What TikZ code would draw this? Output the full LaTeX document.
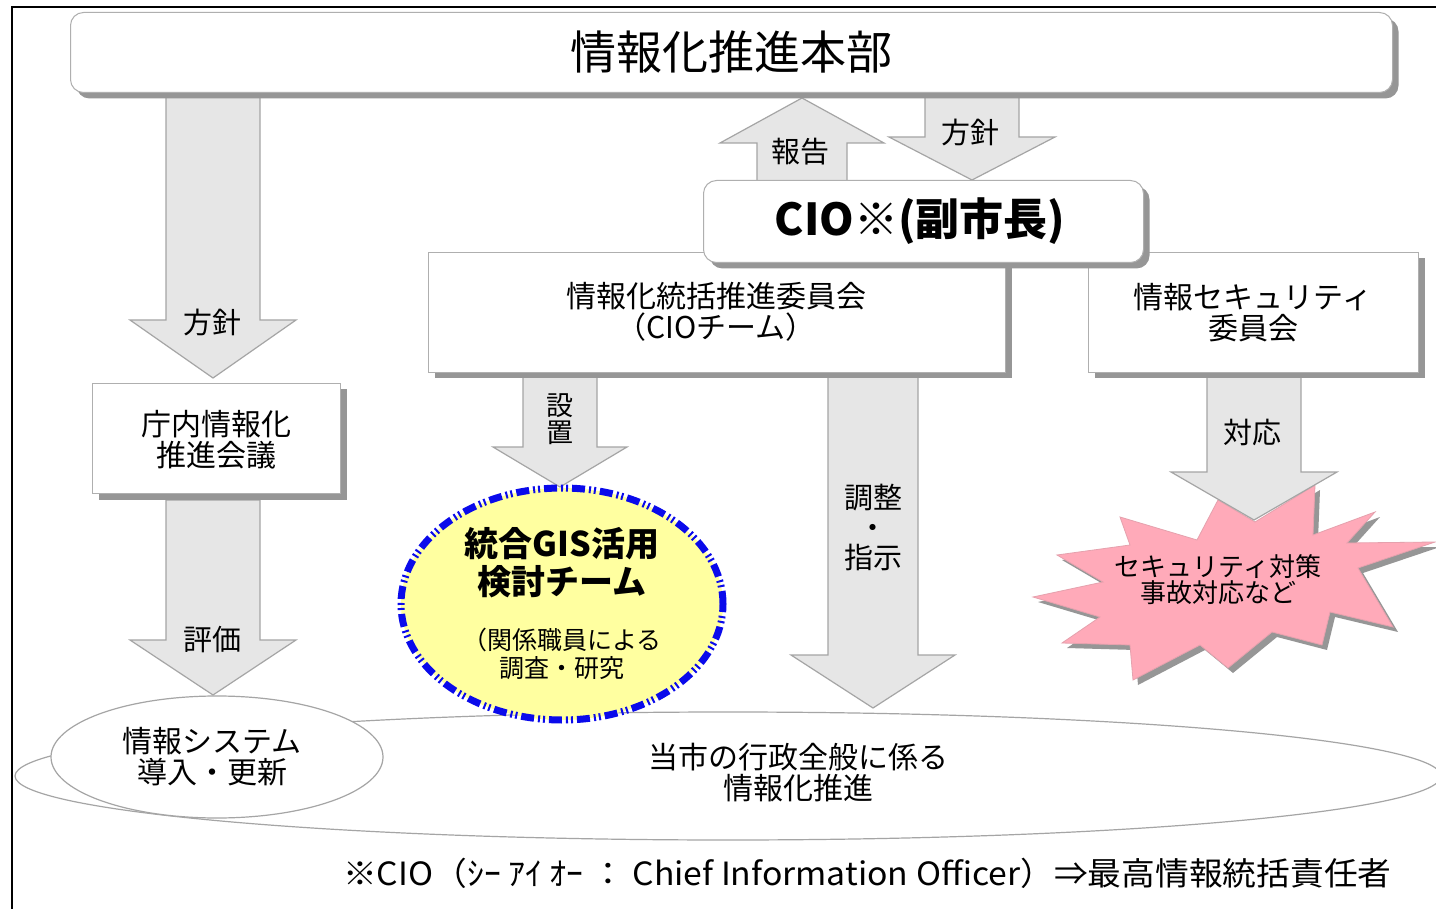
\documentclass[tikz,border=0pt]{standalone}
\usepackage{fontspec}
\setmainfont{Noto Sans CJK JP}
\usetikzlibrary{shadows,shapes.geometric}
\definecolor{arrowgray}{RGB}{230,230,230}
\definecolor{linegray}{RGB}{165,165,165}
\definecolor{shadowgray}{RGB}{150,150,150}
\definecolor{boxgray}{RGB}{175,175,175}
\definecolor{pinkc}{RGB}{255,170,185}
\definecolor{yellowc}{RGB}{255,255,160}
\definecolor{bluec}{RGB}{10,10,235}
\newcommand\blockarrow[6]{%
  \filldraw[arrowsty] ({#1-#5},#2) -- ({#1+#5},#2) -- ({#1+#5},#3) -- ({#1+#6},#3) -- (#1,#4) -- ({#1-#6},#3) -- ({#1-#5},#3) -- cycle;}
\begin{document}
\begin{tikzpicture}[x=1pt,y=-1pt,
  arrowsty/.style={fill=arrowgray, draw=linegray, line width=1.2pt},
  sq/.style={draw=boxgray, fill=white, line width=1pt, anchor=north west,
    drop shadow={shadow xshift=6pt, shadow yshift=-6pt, fill=shadowgray, opacity=1}},
  rbox/.style={sq, rounded corners=13pt},
  txt/.style={font=\fontsize{30}{31}\selectfont, align=center, inner sep=0pt},
  lbl/.style={font=\fontsize{29}{30}\selectfont, align=center, inner sep=0pt},
]
\useasboundingbox (0,0) rectangle (1436,909);
\clip (0,0) rectangle (1436,909);
\fill[white] (0,0) rectangle (1436,909);
\draw[black, line width=2pt] (12,909) -- (12,7) -- (1440,7);

% big ellipse and its text
\node[ellipse, draw=linegray, fill=white, line width=1.2pt, minimum width=1426pt, minimum height=128pt, inner sep=0pt] (all) at (728,776) {};
\node[txt] (allt) at (798,773) {当市の行政全般に係る\\情報化推進};

% block arrows
\blockarrow{213}{95}{320}{378}{47}{83}
\blockarrow{213}{500}{640}{695}{47}{83}
\blockarrow{802}{185}{143}{98}{45}{82}
\blockarrow{972}{95}{137}{180}{47}{83}
\blockarrow{560}{375}{447}{487}{37}{67}
\blockarrow{873}{375}{655}{708}{45}{82}

% starburst
\filldraw[fill=pinkc, draw=pinkc!80!gray, line width=0.8pt,
  drop shadow={shadow xshift=5pt, shadow yshift=-5pt, fill=shadowgray, opacity=1}]
  (1120,517) -- (1197,540) -- (1218,500) -- (1255,522) -- (1315,485) -- (1313,535)
  -- (1375,512) -- (1347,543) -- (1435,542) -- (1358,568) -- (1393,627) -- (1330,612)
  -- (1322,645) -- (1272,632) -- (1228,668) -- (1200,645) -- (1133,680) -- (1130,645)
  -- (1062,643) -- (1100,617) -- (1033,597) -- (1103,582) -- (1057,555) -- (1130,545) -- cycle;
\node[font=\fontsize{26}{26}\selectfont, align=center, inner sep=0pt] (star) at (1218,580) {セキュリティ対策\\事故対応など};
\blockarrow{1254}{375}{472}{520}{47}{83}

% boxes
\node[rbox, minimum width=1322pt, minimum height=80pt] (hq) at (70,12) {};
\node[font=\fontsize{46}{46}\selectfont, inner sep=0pt] (hqt) at (hq.center) {情報化推進本部};

\node[sq, minimum width=248pt, minimum height=110pt] (chonai) at (92,383) {};
\node[txt] (chonait) at (216,440) {庁内情報化\\推進会議};

\node[sq, minimum width=577pt, minimum height=120pt] (cioteam) at (428,252) {};
\node[txt] (cioteamt) at (716,312) {情報化統括推進委員会\\（CIOチーム）};

\node[sq, minimum width=330pt, minimum height=120pt] (sec) at (1088,252) {};
\node[txt] (sect) at (1253,313) {情報セキュリティ\\委員会};

\node[rbox, minimum width=440pt, minimum height=82pt] (cio) at (703,180) {};
\node[font=\fontsize{44}{44}\selectfont\bfseries, inner sep=0pt] (ciot) at (920,221) {CIO※(副市長)};

% small ellipse
\node[ellipse, draw=linegray, fill=white, line width=1.2pt, minimum width=332pt, minimum height=122pt, inner sep=0pt] (sys) at (217,757) {};
\node[txt] (syst) at (212,757) {情報システム\\導入・更新};

% GIS ellipse
\node[ellipse, draw=bluec, fill=yellowc, line width=7pt, minimum width=322pt, minimum height=232pt, inner sep=0pt,
  dash pattern=on 13pt off 4pt on 2pt off 3pt on 2pt off 4pt] (gis) at (562,604) {};
\node[font=\fontsize{34}{38}\selectfont\bfseries, align=center, inner sep=0pt] (gist) at (562,563) {統合GIS活用\\検討チーム};
\node[font=\fontsize{25}{28}\selectfont, align=center, inner sep=0pt] (gist2) at (562,654) {（関係職員による\\調査・研究};

% arrow labels
\node[lbl] (l1) at (212,322) {方針};
\node[lbl] (l2) at (212,640) {評価};
\node[lbl] (l3) at (800,152) {報告};
\node[lbl] (l4) at (970,132) {方針};
\node[lbl, font=\fontsize{27}{27}\selectfont] (l5) at (560,419) {設\\置};
\node[lbl] (l6) at (873,527) {調整\\・\\指示};
\node[lbl] (l7) at (1252,432) {対応};

% footnote
\node[anchor=west, font=\fontsize{32}{32}\selectfont, inner sep=0pt] (foot) at (343,873) {\scalebox{1.055}[1]{※CIO（ｼｰ ｱｲ ｵｰ ： Chief Information Officer）⇒最高情報統括責任者}};
\end{tikzpicture}
\end{document}
